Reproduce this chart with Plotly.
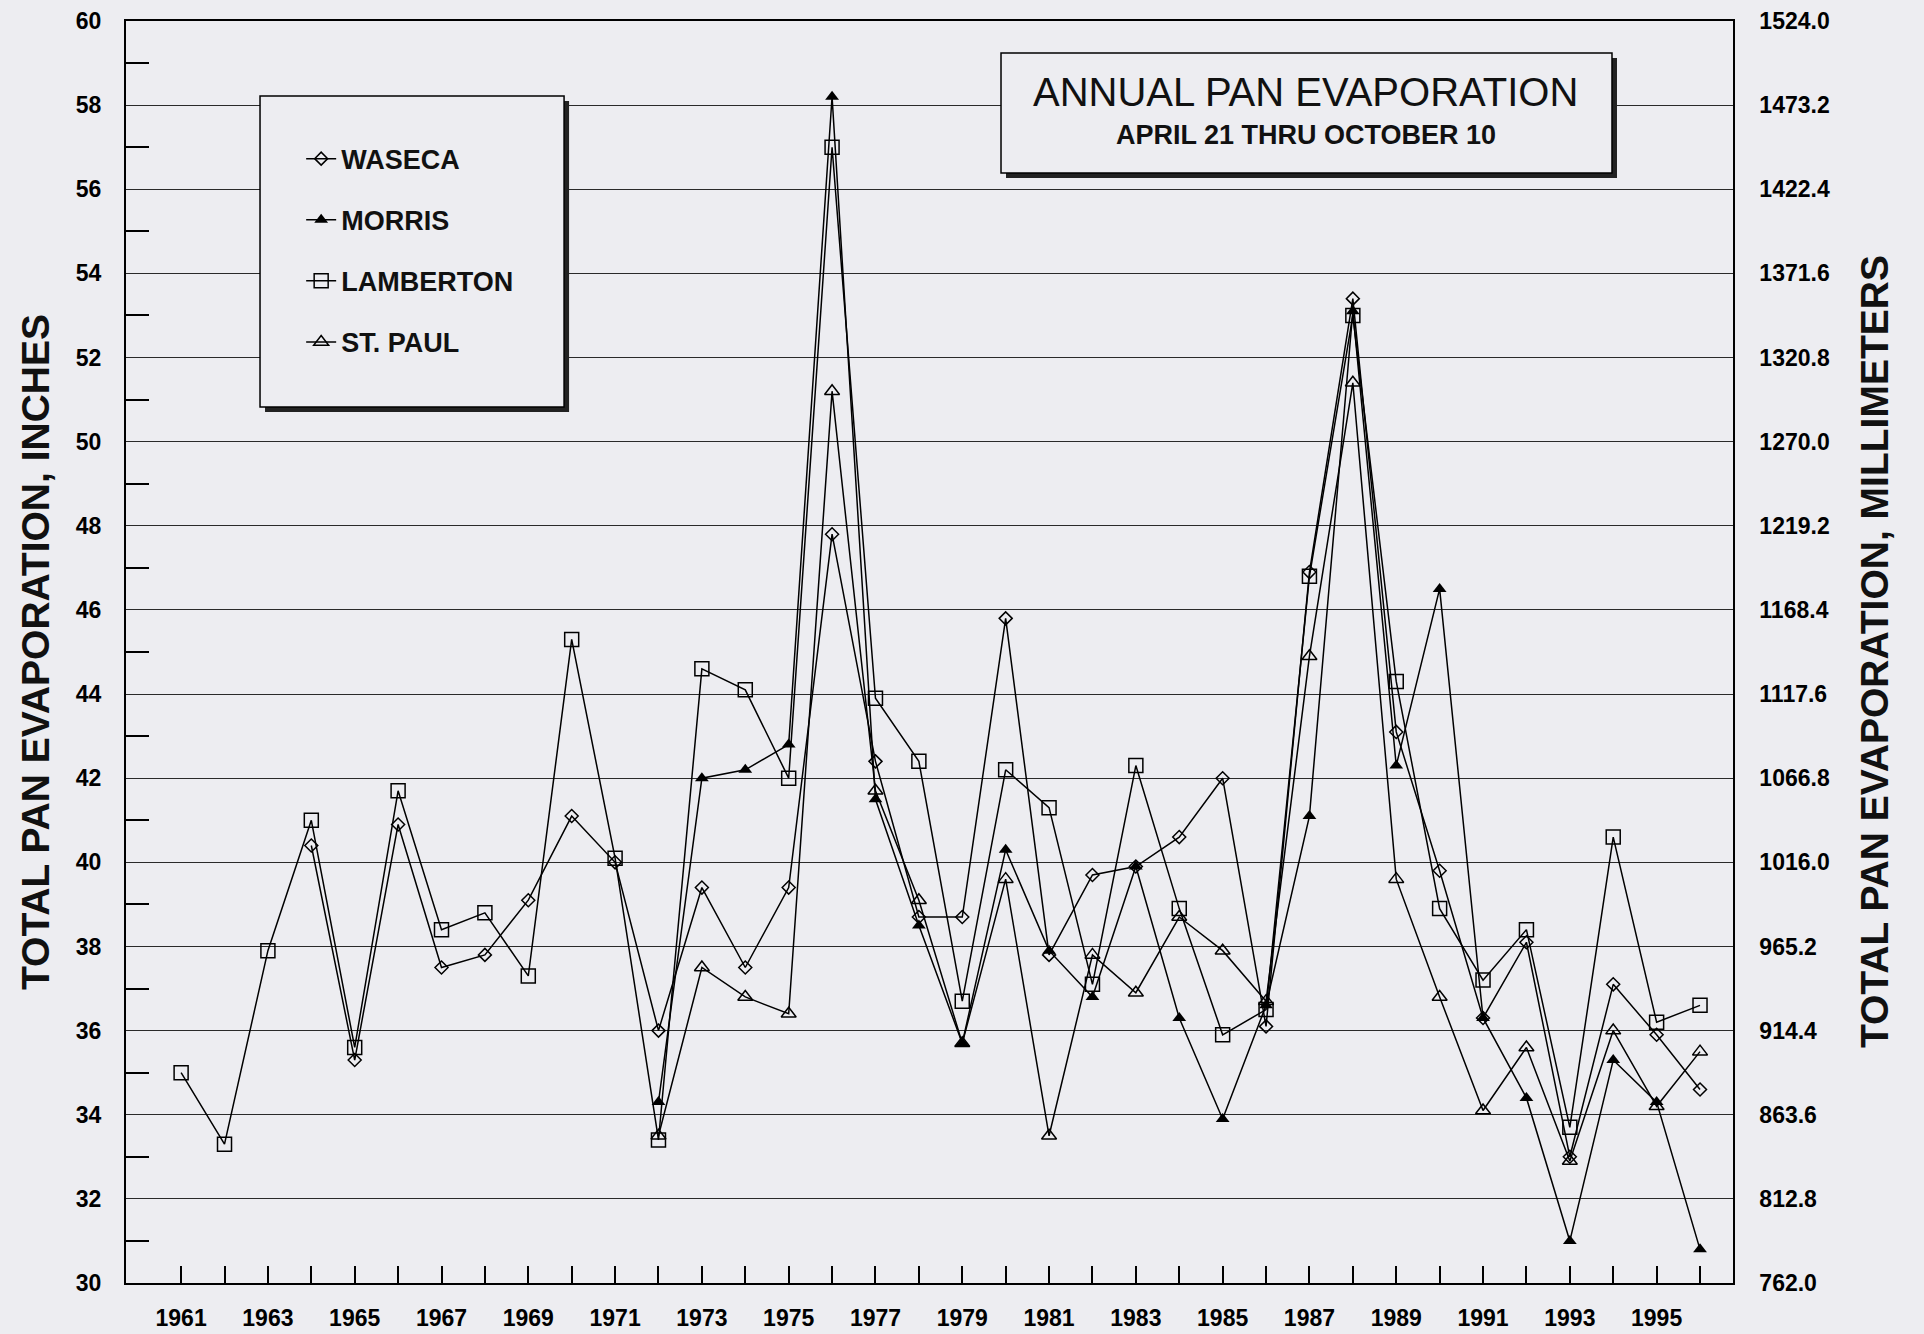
import plotly.graph_objects as go

years = list(range(1961, 1997))

waseca = [None, None, None, 40.4, 35.3, 40.9, 37.5, 37.8, 39.1, 41.1,
          40.0, 36.0, 39.4, 37.5, 39.4, 47.8, 42.4, 38.7, 38.7, 45.8,
          37.8, 39.7, 39.9, 40.6, 42.0, 36.1, 46.9, 53.4, 43.1, 39.8,
          36.3, 38.1, 33.0, 37.1, 35.9, 34.6]
morris = [None, None, None, None, None, None, None, None, None, None,
          None, 34.3, 42.0, 42.2, 42.8, 58.2, 41.5, 38.5, 35.7, 40.3,
          37.9, 36.8, 39.9, 36.3, 33.9, 36.6, 41.1, 53.1, 42.3, 46.5,
          36.3, 34.4, 31.0, 35.3, 34.3, 30.8]
lamberton = [35.0, 33.3, 37.9, 41.0, 35.6, 41.7, 38.4, 38.8, 37.3, 45.3,
             40.1, 33.4, 44.6, 44.1, 42.0, 57.0, 43.9, 42.4, 36.7, 42.2,
             41.3, 37.1, 42.3, 38.9, 35.9, 36.5, 46.8, 53.0, 44.3, 38.9,
             37.2, 38.4, 33.7, 40.6, 36.2, 36.6]
st_paul = [None, None, None, None, None, None, None, None, None, None,
           None, 33.5, 37.5, 36.8, 36.4, 51.2, 41.7, 39.1, 35.7, 39.6,
           33.5, 37.8, 36.9, 38.7, 37.9, 36.7, 44.9, 51.4, 39.6, 36.8,
           34.1, 35.6, 32.9, 36.0, 34.2, 35.5]

inch_ticks = list(range(30, 61, 2))
mm_ticks = [round(v * 25.4, 1) for v in inch_ticks]
mm_labels = [f"{v:.1f}" for v in mm_ticks]
year_labels = [str(y) if (y - 1961) % 2 == 0 and y < 1996 else "" for y in years]

FONT = "Liberation Sans, Arial, sans-serif"
BG = "#ededf1"

fig = go.Figure()
series = [
    ("WASECA", waseca, dict(symbol="diamond-open", size=10, color="black", line=dict(width=1.5, color="black"))),
    ("MORRIS", morris, dict(symbol="triangle-up", size=12, color="black")),
    ("LAMBERTON", lamberton, dict(symbol="square-open", size=14, color="black", line=dict(width=1.5, color="black"))),
    ("ST. PAUL", st_paul, dict(symbol="triangle-up-open", size=13, color="black", line=dict(width=1.5, color="black"))),
]
for name, vals, mk in series:
    fig.add_trace(go.Scatter(
        x=years, y=vals, name=name, mode="lines+markers",
        line=dict(color="black", width=1.5), marker=mk,
        legendgroup=name,
    ))

# invisible trace for the right axis
fig.add_trace(go.Scatter(x=[years[0]], y=[mm_ticks[0]], yaxis="y2",
                         mode="markers", marker=dict(opacity=0), showlegend=False,
                         hoverinfo="skip"))

x0, x1 = 1959.73, 1996.76

fig.update_layout(
    width=1924, height=1334,
    margin=dict(l=126, r=191, t=21, b=51, autoexpand=False),
    paper_bgcolor=BG, plot_bgcolor=BG,
    font=dict(family=FONT, color="black"),
    showlegend=True,
    legend=dict(
        x=0.109, y=0.910, xanchor="left", yanchor="top",
        bgcolor="rgba(0,0,0,0)", borderwidth=0,
        font=dict(family=FONT, size=27, weight="bold", color="#111"),
        tracegroupgap=23, itemwidth=30,
    ),
    xaxis=dict(
        range=[x0, x1], tickmode="array", tickvals=years, ticktext=year_labels,
        ticks="inside", ticklen=17, tickwidth=1.5, tickcolor="black",
        showgrid=False, zeroline=False, automargin=False,
        showline=True, linecolor="black", linewidth=2, mirror=True,
        tickfont=dict(family=FONT, size=23, weight="bold"),
        ticklabelstandoff=13,
    ),
    yaxis=dict(
        range=[30, 60], tickmode="array", tickvals=inch_ticks,
        ticktext=[str(v) for v in inch_ticks], automargin=False,
        ticks="", showgrid=True, gridcolor="#2a2a2a", gridwidth=1.4,
        zeroline=False, showline=True, linecolor="black", linewidth=2,
        tickfont=dict(family=FONT, size=23, weight="bold"),
        ticklabelstandoff=18,
        minor=dict(tickvals=list(range(31, 60, 2)), ticks="inside", ticklen=23,
                   tickwidth=1.5, tickcolor="black", showgrid=False),
    ),
    yaxis2=dict(
        range=[762, 1524], overlaying="y", side="right", automargin=False,
        tickmode="array", tickvals=mm_ticks, ticktext=mm_labels,
        ticks="", showgrid=False, zeroline=False,
        showline=True, linecolor="black", linewidth=1.5,
        tickfont=dict(family=FONT, size=23, weight="bold"),
        ticklabelstandoff=20,
    ),
)

pw, ph = 1607.0, 1262.0
dx, dy = 5 / pw, 5 / ph

def boxed(xa, xb, ya, yb):
    fig.add_shape(type="rect", xref="paper", yref="paper",
                  x0=xa + dx, x1=xb + dx, y0=ya - dy, y1=yb - dy,
                  fillcolor="#222", line=dict(width=0), layer="above")
    fig.add_shape(type="rect", xref="paper", yref="paper",
                  x0=xa, x1=xb, y0=ya, y1=yb,
                  fillcolor=BG, line=dict(color="black", width=1.5), layer="above")

boxed(0.0834, 0.2726, 0.6941, 0.9406)
boxed(0.5445, 0.9247, 0.8796, 0.9746)

fig.add_annotation(text="ANNUAL PAN EVAPORATION", xref="paper", yref="paper",
                   x=0.734, y=0.9437, xanchor="center", yanchor="middle", showarrow=False,
                   font=dict(family=FONT, size=40, color="#111"))
fig.add_annotation(text="APRIL 21 THRU OCTOBER 10", xref="paper", yref="paper",
                   x=0.734, y=0.9097, xanchor="center", yanchor="middle", showarrow=False,
                   font=dict(family=FONT, size=27, weight="bold", color="#111"))

fig.add_annotation(text="TOTAL PAN EVAPORATION, INCHES", xref="paper", yref="paper",
                   x=-0.0566, y=0.5, xanchor="center", yanchor="middle",
                   textangle=-90, showarrow=False,
                   font=dict(family=FONT, size=39, weight="bold", color="#111"))
fig.add_annotation(text="TOTAL PAN EVAPORATION, MILLIMETERS", xref="paper", yref="paper",
                   x=1.0878, y=0.5, xanchor="center", yanchor="middle",
                   textangle=-90, showarrow=False,
                   font=dict(family=FONT, size=39, weight="bold", color="#111"))

fig.write_html("out.html", config={"displayModeBar": False},
               post_script="document.body.style.margin='0';")
